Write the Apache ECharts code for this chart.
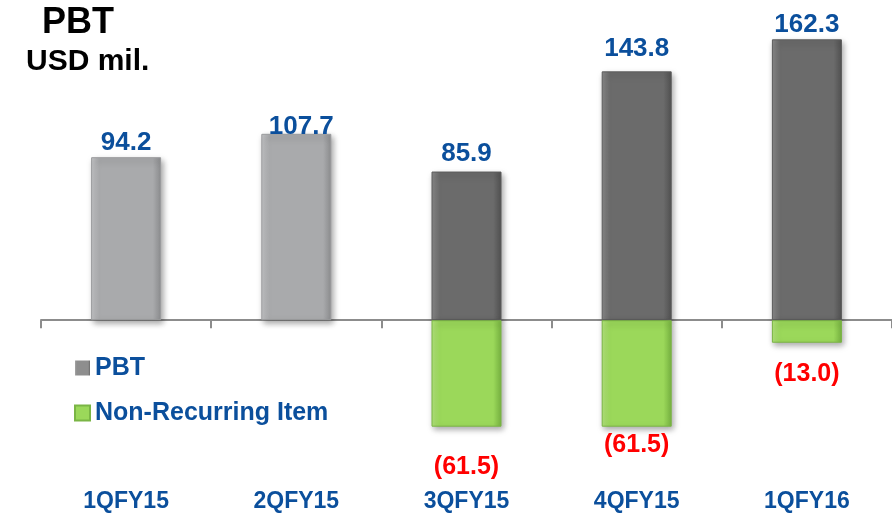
<!DOCTYPE html>
<html>
<head>
<meta charset="utf-8">
<title>PBT</title>
<script src="https://cdn.jsdelivr.net/npm/echarts@6/dist/echarts.min.js"></script>
<style>
    html, body { margin: 0; padding: 0; background: #fff; }
    #chart { width: 892px; height: 522px; }
</style>
</head>
<body>
<div id="chart"></div>
<script>
// 数据
const categories = ['1QFY15', '2QFY15', '3QFY15', '4QFY15', '1QFY16'];
const pbtValues = [94.2, 107.7, 85.9, 143.8, 162.3];
const nonRecurringValues = [null, null, -61.5, -61.5, -13.0];

const BLUE = '#0b4f9c';
const FONT = '"Liberation Sans", Arial, sans-serif';

// 斜面渐变
function bevel(light, main, dark) {
    return new echarts.graphic.LinearGradient(0, 0, 1, 0, [
        { offset: 0, color: light },
        { offset: 0.12, color: main },
        { offset: 0.88, color: main },
        { offset: 1, color: dark }
    ]);
}

const lightGray = { color: bevel('#c4c5c7', '#a9aaac', '#8e8f91'), borderColor: '#9a9b9d' };
const darkGray = { color: bevel('#8a8a8a', '#6b6b6b', '#525252'), borderColor: '#5c5c5c' };
const green = { color: bevel('#b3e57c', '#9bd85a', '#78b441'), borderColor: '#7ab545' };

const shadow = {
    shadowColor: 'rgba(0,0,0,0.35)',
    shadowBlur: 6,
    shadowOffsetX: 2,
    shadowOffsetY: 3,
    borderWidth: 1
};

// 标签微调 (按类别)
const pbtLabelGap = { '1QFY15': 1, '2QFY15': -6, '3QFY15': 5, '4QFY15': 10, '1QFY16': 1 };
const nriLabelGap = { '3QFY15': 28, '4QFY15': 6, '1QFY16': 19 };

function initChart() {
    const chart = echarts.init(document.getElementById('chart'));

    const pbtData = pbtValues.map(function(v, i) {
        const style = i < 2 ? lightGray : darkGray;
        return {
            value: v,
            itemStyle: Object.assign({}, shadow, style),
            label: {
                distance: pbtLabelGap[categories[i]],
                offset: i === 1 ? [5, 0] : [0, 0]
            }
        };
    });

    const nriData = nonRecurringValues.map(function(v, i) {
        if (v === null) return null;
        return {
            value: v,
            label: { distance: nriLabelGap[categories[i]] }
        };
    });

    const option = {
        animation: false,
        title: [
            {
                text: 'PBT',
                left: 37,
                top: 0,
                textStyle: { fontFamily: FONT, fontSize: 36, fontWeight: 'bold', color: '#000' }
            },
            {
                text: 'USD mil.',
                left: 21,
                top: 42,
                textStyle: { fontFamily: FONT, fontSize: 30, fontWeight: 'bold', color: '#000' }
            }
        ],
        legend: {
            orient: 'vertical',
            left: 69,
            top: 350,
            itemWidth: 15,
            itemHeight: 15,
            itemGap: 19,
            icon: 'rect',
            data: [
                { name: 'PBT', itemStyle: { color: bevel('#a5a5a5', '#8e8e8e', '#6a6a6a') } },
                { name: 'Non-Recurring Item', itemStyle: { color: bevel('#b3e57c', '#9bd85a', '#78b441') } }
            ],
            textStyle: { fontFamily: FONT, fontSize: 25, fontWeight: 'bold', color: BLUE, lineHeight: 26 }
        },
        grid: {
            left: 41,
            right: -4,
            top: 26,
            bottom: 46
        },
        xAxis: [
            {
                type: 'category',
                data: categories,
                position: 'bottom',
                axisLine: { show: false, onZero: false },
                axisTick: { show: false },
                axisLabel: {
                    margin: 14,
                    fontFamily: FONT,
                    fontSize: 23,
                    fontWeight: 'bold',
                    color: BLUE
                }
            },
            {
                type: 'category',
                data: categories,
                position: 'bottom',
                axisLine: { show: true, onZero: true, lineStyle: { color: '#8c8c8c', width: 2 } },
                axisTick: { show: true, length: 8, lineStyle: { color: '#8c8c8c', width: 2 } },
                axisLabel: { show: false }
            }
        ],
        yAxis: {
            type: 'value',
            min: -90,
            max: 170,
            show: false,
            splitLine: { show: false }
        },
        series: [
            {
                name: 'PBT',
                type: 'bar',
                stack: 'total',
                barWidth: 70,
                data: pbtData,
                z: 2,
                label: {
                    show: true,
                    position: 'top',
                    fontFamily: FONT,
                    fontSize: 26,
                    fontWeight: 'bold',
                    color: BLUE,
                    formatter: function(p) {
                        return p.value.toFixed(1);
                    }
                }
            },
            {
                name: 'Non-Recurring Item',
                type: 'bar',
                stack: 'total',
                barWidth: 70,
                data: nriData,
                z: 2,
                itemStyle: Object.assign({}, shadow, green),
                label: {
                    show: true,
                    position: 'bottom',
                    fontFamily: FONT,
                    fontSize: 25,
                    fontWeight: 'bold',
                    color: '#ff0000',
                    formatter: function(p) {
                        return '(' + Math.abs(p.value).toFixed(1) + ')';
                    }
                }
            }
        ]
    };

    chart.setOption(option);

    window.addEventListener('resize', function() {
        chart.resize();
    });
}

window.addEventListener('DOMContentLoaded', initChart);
</script>
</body>
</html>
